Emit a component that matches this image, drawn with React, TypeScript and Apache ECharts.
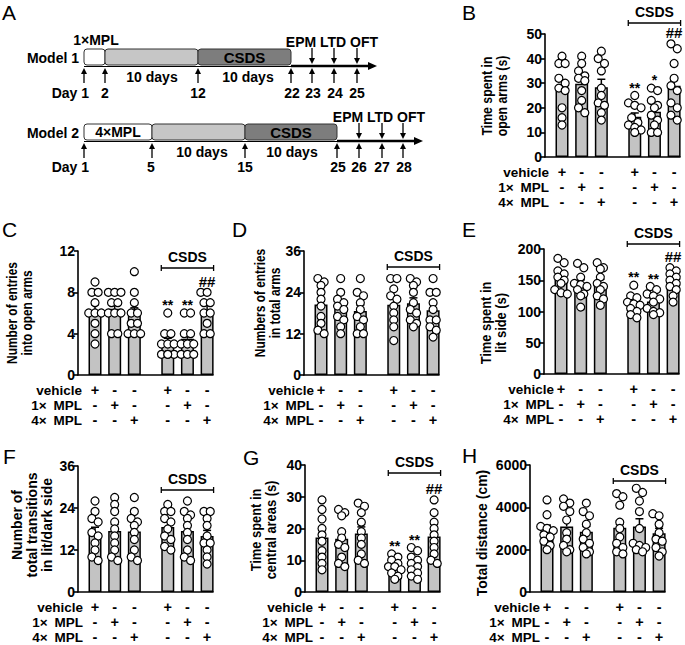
import React, { useEffect, useRef } from 'react';
import * as echarts from 'echarts';

// ---------- shared categories ----------
const groupX = [1, 2, 3, 4.7, 5.7, 6.7];
const rowLabels = ['vehicle', '1\u00D7\u2002MPL', '4\u00D7\u2002MPL'];
const signVehicle = ['+', '-', '-', '+', '-', '-'];
const sign1x = ['-', '+', '-', '-', '+', '-'];
const sign4x = ['-', '-', '+', '-', '-', '+'];

// ---------- Panel B: time in open arms (s) ----------
const bMean = [28.2, 29.8, 28.4, 16.4, 18.4, 29.0];
const bSem = [3.0, 2.4, 3.2, 1.5, 1.9, 3.2];
const bPoints = [
  [41, 38, 38, 32, 30, 28, 27, 20, 16, 13],
  [41, 38, 35, 33, 32, 31, 27, 23, 20, 18],
  [43, 40, 38, 35, 28, 25, 22, 21, 18, 15],
  [25, 22, 21, 20, 16, 14, 13, 12, 11, 10],
  [28, 27, 23, 21, 20, 17, 15, 13, 10, 10],
  [46, 44, 38, 32, 29, 27, 22, 20, 17, 15],
];
const bTicks = [0, 10, 20, 30, 40, 50];

// ---------- Panel C: entries into open arms ----------
const cMean = [6.2, 6.4, 5.9, 3.1, 3.5, 6.3];
const cSem = [0.6, 0.5, 0.6, 0.45, 0.45, 0.5];
const cPoints = [
  [9, 8, 8, 7, 6, 6, 6, 5, 4, 3],
  [8, 8, 8, 7, 7, 6, 6, 6, 4, 4],
  [10, 8, 7, 6, 6, 5, 5, 4, 4, 4],
  [6, 4, 4, 3, 3, 3, 2, 2, 2, 2],
  [6, 6, 4, 4, 3, 3, 3, 2, 2, 2],
  [8, 8, 8, 7, 7, 6, 6, 5, 4, 4],
];
const cTicks = [0, 4, 8, 12];

// ---------- Panel D: entries in total arms ----------
const dMean = [20.5, 19.3, 18.6, 20.4, 20.8, 18.8];
const dSem = [1.8, 1.6, 1.7, 1.8, 1.6, 1.9];
const dPoints = [
  [28, 27, 26, 24, 22, 20, 17, 15, 13, 12],
  [28, 24, 22, 21, 20, 19, 17, 16, 14, 12],
  [28, 24, 23, 21, 19, 17, 16, 14, 12, 12],
  [28, 28, 25, 23, 22, 20, 18, 16, 14, 10],
  [28, 27, 26, 24, 21, 19, 18, 16, 15, 14],
  [28, 24, 24, 21, 19, 16, 16, 14, 13, 11],
];
const dTicks = [0, 12, 24, 36];

// ---------- Panel E: time in lit side (s) ----------
const eMean = [152, 143, 144.5, 112, 116, 145.5];
const eSem = [6.5, 7.5, 7.0, 5.0, 5.0, 6.0];
const ePoints = [
  [185, 178, 165, 160, 155, 150, 145, 135, 130, 128],
  [177, 170, 155, 145, 143, 140, 135, 128, 125, 107],
  [178, 170, 168, 155, 145, 140, 135, 125, 120, 110],
  [142, 125, 122, 115, 112, 110, 105, 100, 95, 90],
  [140, 135, 128, 125, 120, 115, 105, 100, 98, 95],
  [170, 165, 160, 155, 150, 145, 140, 135, 125, 115],
];
const eTicks = [0, 50, 100, 150, 200];

// ---------- Panel F: transitions lit/dark ----------
const fMean = [16.8, 17.4, 17.3, 18.6, 17.4, 16.0];
const fSem = [1.7, 1.9, 1.9, 1.4, 1.8, 1.6];
const fPoints = [
  [26, 23, 21, 20, 17, 16, 14, 12, 10, 9],
  [27, 25, 23, 20, 18, 16, 14, 12, 10, 9],
  [27, 23, 21, 20, 19, 17, 15, 12, 10, 9],
  [25, 23, 23, 21, 20, 18, 16, 15, 13, 12],
  [26, 23, 22, 21, 19, 17, 15, 12, 10, 9],
  [23, 23, 21, 19, 16, 14, 14, 12, 10, 8],
];
const fTicks = [0, 12, 24, 36];

// ---------- Panel G: time in central areas (s) ----------
const gMean = [17.2, 16.8, 18.4, 8.0, 8.7, 17.5];
const gSem = [2.2, 2.1, 2.1, 0.9, 1.0, 2.1];
const gPoints = [
  [29, 26, 23, 20, 18, 16, 13, 11, 9, 7],
  [26, 25, 24, 19, 17, 15, 14, 11, 9, 8],
  [28, 27, 25, 22, 19, 17, 15, 12, 10, 9],
  [12, 11, 10, 9, 8, 8, 7, 6, 5, 4],
  [14, 13, 11, 10, 9, 8, 7, 6, 5, 4],
  [29, 25, 22, 20, 18, 16, 14, 12, 10, 9],
];
const gTicks = [0, 10, 20, 30, 40];

// ---------- Panel H: total distance (cm) ----------
const hMean = [2900, 3100, 2850, 3040, 3100, 2780];
const hSem = [260, 300, 260, 320, 360, 230];
const hPoints = [
  [4350, 3650, 3100, 3000, 2900, 2700, 2600, 2400, 2200, 2000],
  [4400, 4200, 4050, 3800, 3400, 2800, 2500, 2200, 2000, 1900],
  [4200, 3800, 3600, 3200, 2800, 2500, 2300, 2100, 1900, 1800],
  [4650, 4500, 4100, 3300, 3000, 2600, 2300, 2100, 1900, 1800],
  [4900, 4700, 4300, 3800, 3000, 2300, 2200, 2100, 2000, 1900],
  [3700, 3600, 3500, 3200, 2800, 2500, 2400, 2100, 1900, 1700],
];
const hTicks = [0, 2000, 4000, 6000];

// ---------- significance marks ----------
const marksB = ['', '', '', '**', '*', '##'];
const marksCEG = ['', '', '', '**', '**', '##'];
const marksNone = ['', '', '', '', '', ''];

const FONT = '"Liberation Sans", Arial, Helvetica, sans-serif';
const X_MIN = 0.135;
const X_MAX = 7.0;
const GRID_W = 135;
const ROW_GAP = 15;
const ROW_FONT = 13.5;

type Panel = {
  letter: string; lx: number; ly: number;
  mean: number[]; sem: number[]; points: number[][]; ticks: number[];
  left: number; top: number; zero: number;
  title: string; tx: number; ty: number; tScale: number;
  labelRight: number; csdsY: number; marks: string[];
};

const panels: Panel[] = [
  { letter: 'B', lx: 462, ly: 12, mean: bMean, sem: bSem, points: bPoints, ticks: bTicks, left: 545, top: 34, zero: 157, title: 'Time spent in\nopen arms (s)', tx: 495, ty: 96, tScale: 0.88, labelRight: 549, csdsY: 23, marks: marksB },
  { letter: 'C', lx: 2, ly: 229, mean: cMean, sem: cSem, points: cPoints, ticks: cTicks, left: 78, top: 251, zero: 375, title: 'Number of entries\ninto open arms', tx: 20, ty: 313, tScale: 0.85, labelRight: 82, csdsY: 268, marks: marksCEG },
  { letter: 'D', lx: 232, ly: 229, mean: dMean, sem: dSem, points: dPoints, ticks: dTicks, left: 304, top: 251, zero: 375, title: 'Numbers of entries\nin total arms', tx: 268, ty: 303, tScale: 0.85, labelRight: 314, csdsY: 267, marks: marksNone },
  { letter: 'E', lx: 462, ly: 229, mean: eMean, sem: eSem, points: ePoints, ticks: eTicks, left: 544, top: 249, zero: 374, title: 'Time spent in\nlit side (s)', tx: 494, ty: 323, tScale: 0.92, labelRight: 554, csdsY: 244, marks: marksCEG },
  { letter: 'F', lx: 3, ly: 456, mean: fMean, sem: fSem, points: fPoints, ticks: fTicks, left: 78, top: 466, zero: 592, title: 'Number of\ntotal transitions\nin lit/dark side', tx: 32, ty: 525, tScale: 1.0, labelRight: 83, csdsY: 490, marks: marksNone },
  { letter: 'G', lx: 243, ly: 457, mean: gMean, sem: gSem, points: gPoints, ticks: gTicks, left: 305, top: 465, zero: 592, title: 'Time spent in\ncentral areas (s)', tx: 264, ty: 530, tScale: 0.92, labelRight: 313, csdsY: 473, marks: marksCEG },
  { letter: 'H', lx: 462, ly: 455, mean: hMean, sem: hSem, points: hPoints, ticks: hTicks, left: 530, top: 465, zero: 592, title: 'Total distance (cm)', tx: 482, ty: 533, tScale: 1.0, labelRight: 540, csdsY: 481, marks: marksNone },
];

function jitter(vals: number[], pxPerUnit: number): number[] {
  const idx = vals.map((_, i) => i).sort((a, b) => vals[b] - vals[a]);
  const off = new Array(vals.length).fill(0);
  let group: number[] = [];
  const flush = () => {
    const n = group.length;
    group.forEach((k, j) => { off[k] = (j - (n - 1) / 2) * 0.32; });
    group = [];
  };
  for (const k of idx) {
    if ((group.length > 0 && (vals[group[0]] - vals[k]) * pxPerUnit > 6) || group.length >= 3) flush();
    group.push(k);
  }
  flush();
  return off;
}

function txt(x: number, y: number, text: string, size: number, opts: any = {}) {
  const weight = opts.weight || 'bold';
  const align = opts.align || 'center';
  return {
    type: 'text', x, y, rotation: opts.rotation || 0, scaleX: opts.scaleX || 1, z: 10,
    style: {
      text, font: `${weight} ${size}px ${FONT}`, fill: opts.fill || '#000',
      align, verticalAlign: 'middle', textAlign: align, textVerticalAlign: 'middle',
      lineHeight: opts.lineHeight || size,
    },
  };
}

function line(x1: number, y1: number, x2: number, y2: number, w = 1) {
  return { type: 'line', z: 10, shape: { x1, y1, x2, y2 }, style: { stroke: '#000', lineWidth: w } };
}

function upArrow(x: number, yBottom: number, yTop: number) {
  return [
    line(x, yBottom, x, yTop + 5, 1.3),
    { type: 'polygon', z: 10, shape: { points: [[x - 3, yTop + 6], [x + 3, yTop + 6], [x, yTop]] }, style: { fill: '#000' } },
  ];
}
function downArrow(x: number, yTop: number, yBottom: number) {
  return [
    line(x, yTop, x, yBottom - 5, 1.3),
    { type: 'polygon', z: 10, shape: { points: [[x - 3, yBottom - 6], [x + 3, yBottom - 6], [x, yBottom]] }, style: { fill: '#000' } },
  ];
}
function box(x1: number, x2: number, y1: number, y2: number, fill: string) {
  return { type: 'rect', z: 9, shape: { x: x1, y: y1, width: x2 - x1, height: y2 - y1, r: 3 }, style: { fill, stroke: '#333', lineWidth: 1 } };
}

function panelA(): any[] {
  const g: any[] = [];
  g.push(txt(2, 12, 'A', 21, { weight: 'normal', align: 'left' }));
  // Model 1
  g.push(txt(79, 58, 'Model 1', 14, { align: 'right' }));
  g.push(txt(96, 40, '1\u00D7MPL', 14));
  g.push(box(84, 105, 49, 65, '#ffffff'));
  g.push(box(105, 198, 49, 65, '#c6c6c6'));
  g.push(box(198, 291, 49, 65, '#7d7d7d'));
  g.push(txt(244.5, 57, 'CSDS', 15));
  g.push(line(84, 66.5, 291, 66.5, 1));
  g.push(line(291, 66, 369, 66, 2.5));
  g.push({ type: 'polygon', z: 10, shape: { points: [[368, 62], [368, 70], [377, 66]] }, style: { fill: '#000' } });
  [84, 105, 198, 291, 312, 334, 357].forEach((x) => g.push(...upArrow(x, 83, 68)));
  [312, 334, 357].forEach((x) => g.push(...downArrow(x, 48, 64)));
  g.push(txt(301, 42, 'EPM', 14), txt(333, 42, 'LTD', 14), txt(364, 42, 'OFT', 14));
  g.push(txt(152, 77, '10 days', 14), txt(248, 77, '10 days', 14));
  g.push(txt(89, 93, 'Day 1', 14, { align: 'right' }));
  g.push(txt(105, 93, '2', 14), txt(198, 93, '12', 14), txt(292, 93, '22', 14), txt(313, 93, '23', 14), txt(335, 93, '24', 14), txt(357, 93, '25', 14));
  // Model 2
  g.push(txt(79, 133, 'Model 2', 14, { align: 'right' }));
  g.push(box(84, 152, 124, 140, '#ffffff'));
  g.push(txt(118, 132, '4\u00D7MPL', 14));
  g.push(box(152, 245, 124, 140, '#c6c6c6'));
  g.push(box(245, 337, 124, 140, '#7d7d7d'));
  g.push(txt(291, 132, 'CSDS', 15));
  g.push(line(84, 141.5, 337, 141.5, 1));
  g.push(line(337, 141, 415, 141, 2.5));
  g.push({ type: 'polygon', z: 10, shape: { points: [[414, 137], [414, 145], [423, 141]] }, style: { fill: '#000' } });
  [84, 152, 245, 337, 359, 382, 403].forEach((x) => g.push(...upArrow(x, 158, 143)));
  [359, 382, 403].forEach((x) => g.push(...downArrow(x, 123, 139)));
  g.push(txt(348, 117, 'EPM', 14), txt(380, 117, 'LTD', 14), txt(411, 117, 'OFT', 14));
  g.push(txt(202, 152, '10 days', 14), txt(292, 152, '10 days', 14));
  g.push(txt(89, 167, 'Day 1', 14, { align: 'right' }));
  g.push(txt(151, 167, '5', 14), txt(245, 167, '15', 14), txt(338, 167, '25', 14), txt(359, 167, '26', 14), txt(382, 167, '27', 14), txt(404, 167, '28', 14));
  return g;
}

export default function App() {
  const ref = useRef<HTMLDivElement>(null);
  useEffect(() => {
    if (!ref.current) return;
    const chart = echarts.init(ref.current, undefined, { renderer: 'svg' });
    const grids: any[] = [];
    const xAxes: any[] = [];
    const yAxes: any[] = [];
    const series: any[] = [];
    const graphic: any[] = panelA();

    panels.forEach((p, i) => {
      const h = p.zero - p.top;
      const yMax = p.ticks[p.ticks.length - 1];
      const interval = p.ticks[1] - p.ticks[0];
      const pxPerUnit = h / yMax;
      const px = (x: number) => p.left + ((x - X_MIN) / (X_MAX - X_MIN)) * GRID_W;
      const py = (v: number) => p.zero - v * pxPerUnit;
      grids.push({ left: p.left, top: p.top, width: GRID_W, height: h, containLabel: false });
      xAxes.push({
        type: 'value', gridIndex: i, min: X_MIN, max: X_MAX,
        axisLine: { show: true, onZero: false, lineStyle: { color: '#000', width: 1.6 } },
        axisTick: { show: false }, axisLabel: { show: false }, splitLine: { show: false },
      });
      yAxes.push({
        type: 'value', gridIndex: i, min: 0, max: yMax, interval,
        axisLine: { show: true, lineStyle: { color: '#000', width: 1.6 } },
        axisTick: { show: true, length: 4, lineStyle: { color: '#000', width: 1.6 } },
        axisLabel: { color: '#000', fontWeight: 'bold', fontSize: 14, fontFamily: FONT, margin: 3, formatter: (v: number) => String(v) },
        splitLine: { show: false },
      });
      series.push({
        type: 'bar', xAxisIndex: i, yAxisIndex: i, barWidth: 13, z: 2,
        data: p.mean.map((m, k) => [groupX[k], m]),
        itemStyle: { color: '#c3c3c3', borderColor: '#000', borderWidth: 1.5 },
      });
      series.push({
        type: 'custom', xAxisIndex: i, yAxisIndex: i, z: 3,
        data: p.mean.map((m, k) => [groupX[k], m, p.sem[k]]),
        encode: { x: 0, y: 1 },
        renderItem: (params: any, api: any) => {
          const x = api.value(0); const m = api.value(1); const s = api.value(2);
          const p0 = api.coord([x, m]); const p1 = api.coord([x, m + s]);
          return {
            type: 'group',
            children: [
              { type: 'line', shape: { x1: p0[0], y1: p0[1], x2: p1[0], y2: p1[1] }, style: { stroke: '#000', lineWidth: 1.5 } },
              { type: 'line', shape: { x1: p1[0] - 4, y1: p1[1], x2: p1[0] + 4, y2: p1[1] }, style: { stroke: '#000', lineWidth: 1.5 } },
            ],
          };
        },
      });
      const pts: number[][] = [];
      p.points.forEach((vals, k) => {
        const off = jitter(vals, pxPerUnit);
        vals.forEach((v, j) => pts.push([groupX[k] + off[j], v]));
      });
      series.push({
        type: 'scatter', xAxisIndex: i, yAxisIndex: i, z: 4, symbol: 'circle', symbolSize: 8,
        data: pts,
        itemStyle: { color: '#ffffff', borderColor: '#000', borderWidth: 1.2, opacity: 1 },
      });

      // panel letter and y title
      graphic.push(txt(p.lx, p.ly, p.letter, 21, { weight: 'normal', align: 'left' }));
      graphic.push(txt(p.tx, p.ty, p.title, 14, { rotation: Math.PI / 2, lineHeight: 15, scaleX: p.tScale }));
      // +/- table
      rowLabels.forEach((lab, r) => graphic.push(txt(p.labelRight, p.zero + ROW_GAP * (r + 1), lab, ROW_FONT, { align: 'right', lineHeight: 13 })));
      [signVehicle, sign1x, sign4x].forEach((row, r) => {
        row.forEach((s, k) => graphic.push(txt(px(groupX[k]), p.zero + ROW_GAP * (r + 1), s, ROW_FONT + 1, { lineHeight: 13 })));
      });
      // CSDS bracket
      const bx1 = px(groupX[3]) - 6.5;
      const bx2 = px(groupX[5]) + 6.5;
      graphic.push(line(bx1, p.csdsY, bx2, p.csdsY, 1.3));
      graphic.push(line(bx1, p.csdsY - 3, bx1, p.csdsY + 3, 1.3));
      graphic.push(line(bx2, p.csdsY - 3, bx2, p.csdsY + 3, 1.3));
      graphic.push(txt((bx1 + bx2) / 2, p.csdsY - 11, 'CSDS', 14));
      // significance marks
      p.marks.forEach((mk, k) => {
        if (!mk) return;
        const top = Math.max(...p.points[k]);
        const isHash = mk.startsWith('#');
        graphic.push(txt(px(groupX[k]), py(top) - (isHash ? 11 : 8), mk, isHash ? 15 : 14, { weight: 'bold' }));
      });
    });

    chart.setOption({
      animation: false,
      backgroundColor: '#ffffff',
      grid: grids,
      xAxis: xAxes,
      yAxis: yAxes,
      series,
      graphic: { elements: graphic },
    });
    return () => chart.dispose();
  }, []);
  return <div ref={ref} style={{ position: 'absolute', left: 0, top: 0, width: 685, height: 645 }} />;
}
